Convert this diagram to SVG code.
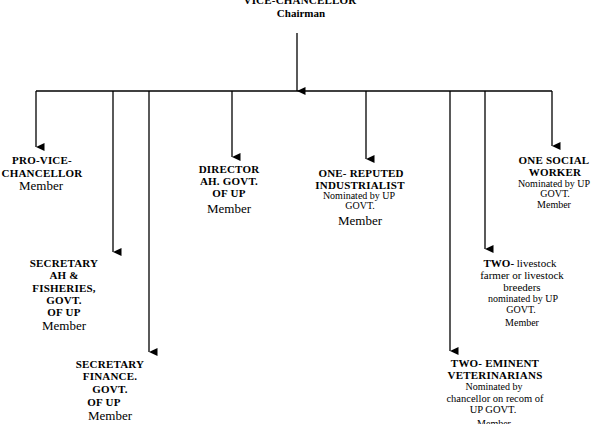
<svg xmlns="http://www.w3.org/2000/svg" width="594" height="424" viewBox="0 0 594 424" font-family="'Liberation Serif', 'DejaVu Serif', serif">
<style>
text{font-family:'Liberation Serif','DejaVu Serif',serif;fill:#000;text-anchor:middle}
.b{font-weight:bold;font-size:11px;letter-spacing:0.2px}
.m{font-size:13px}
.s{font-size:10px}
.t{font-size:11px}
.c line{stroke:#000;stroke-width:1.3}
</style>
<defs>
<marker id="ah" markerUnits="userSpaceOnUse" markerWidth="10" markerHeight="10" viewBox="0 0 10 10" refX="5" refY="9" orient="auto">
<path d="M1,0.5 L9,0.5 L5,9 Z" fill="#000"/>
</marker>
</defs>
<rect width="594" height="424" fill="#fff"/>
<g class="c" id="connectors">
<line x1="297" y1="33" x2="297" y2="91" marker-end="url(#ah)"/>
<line x1="36" y1="91" x2="552" y2="91"/>
<line x1="36" y1="91" x2="36" y2="147" marker-end="url(#ah)"/>
<line x1="113" y1="91" x2="113" y2="252" marker-end="url(#ah)"/>
<line x1="149" y1="91" x2="149" y2="352" marker-end="url(#ah)"/>
<line x1="232" y1="91" x2="232" y2="157" marker-end="url(#ah)"/>
<line x1="366" y1="91" x2="366" y2="159" marker-end="url(#ah)"/>
<line x1="450" y1="91" x2="450" y2="351" marker-end="url(#ah)"/>
<line x1="485" y1="91" x2="485" y2="249" marker-end="url(#ah)"/>
<line x1="552" y1="91" x2="552" y2="146" marker-end="url(#ah)"/>
</g>
<g id="vc">
<text class="b" x="300" y="4">VICE-CHANCELLOR</text>
<text class="b" x="301" y="17" style="letter-spacing:0">Chairman</text>
</g>
<g id="pvc">
<text class="b" x="42" y="164">PRO-VICE-</text>
<text class="b" x="42" y="177">CHANCELLOR</text>
<text class="m" x="41" y="190">Member</text>
</g>
<g id="sec-ah">
<text class="b" x="64" y="267">SECRETARY</text>
<text class="b" x="64" y="279">AH &amp;</text>
<text class="b" x="64" y="292">FISHERIES,</text>
<text class="b" x="64" y="304">GOVT.</text>
<text class="b" x="64" y="316">OF UP</text>
<text class="m" x="64" y="330">Member</text>
</g>
<g id="sec-fin">
<text class="b" x="110" y="368">SECRETARY</text>
<text class="b" x="110" y="380">FINANCE.</text>
<text class="b" x="110" y="393">GOVT.</text>
<text class="b" x="104" y="406">OF UP</text>
<text class="m" x="110" y="420">Member</text>
</g>
<g id="director">
<text class="b" x="229" y="173">DIRECTOR</text>
<text class="b" x="229" y="185">AH. GOVT.</text>
<text class="b" x="229" y="197">OF UP</text>
<text class="m" x="229" y="213">Member</text>
</g>
<g id="industrialist">
<text class="b" x="361" y="177">ONE- REPUTED</text>
<text class="b" x="360" y="189">INDUSTRIALIST</text>
<text class="s" x="359" y="199">Nominated by UP</text>
<text class="s" x="360" y="209">GOVT.</text>
<text class="m" x="360" y="225">Member</text>
</g>
<g id="social">
<text class="b" x="554" y="164">ONE SOCIAL</text>
<text class="b" x="555" y="176">WORKER</text>
<text class="s" x="554" y="187">Nominated by UP</text>
<text class="s" x="555" y="197">GOVT.</text>
<text class="s" x="554" y="208">Member</text>
</g>
<g id="livestock">
<text class="t" x="520" y="267"><tspan font-weight="bold">TWO-</tspan> livestock</text>
<text class="t" x="522" y="279">farmer or livestock</text>
<text class="t" x="522" y="291">breeders</text>
<text class="s" x="523" y="302">nominated by UP</text>
<text class="s" x="521" y="313">GOVT.</text>
<text class="s" x="522" y="326">Member</text>
</g>
<g id="vets">
<text class="b" x="495" y="367">TWO- EMINENT</text>
<text class="b" x="495" y="379">VETERINARIANS</text>
<text class="s" x="494" y="390">Nominated by</text>
<text class="s" x="495" y="402" style="font-size:10.5px">chancellor on recom of</text>
<text class="s" x="493" y="413" style="font-size:10.5px">UP GOVT.</text>
<text class="s" x="494" y="427">Member</text>
</g>
</svg>
